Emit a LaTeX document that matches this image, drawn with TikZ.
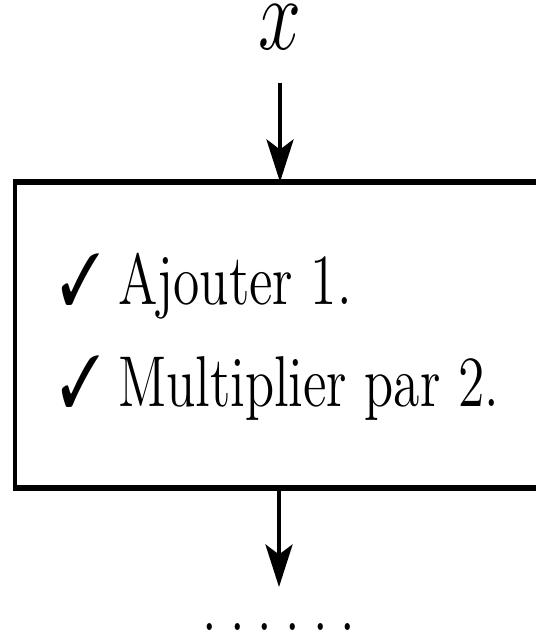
\documentclass[tikz,border=0pt]{standalone}
\usepackage{pifont}
\usepackage{graphicx}
\usetikzlibrary{arrows.meta}
\newcommand{\etroit}[1]{\scalebox{0.745}[1]{#1}}
\tikzset{
	fleche/.style={-{Stealth[length=8.5pt,width=5.4pt,inset=2pt]},line width=0.88pt},
	boite/.style={inner sep=0pt,minimum width=105.44pt,minimum height=60.8pt,font=\fontsize{14.4}{20.4}\selectfont},
	bordv/.style={line width=0.88pt,shorten <=-0.62pt,shorten >=-0.62pt},
	bordh/.style={line width=1.24pt}
}
\begin{document}
\begin{tikzpicture}[x=0.2pt,y=-0.2pt]
	\useasboundingbox (0,0) rectangle (535,634);
	\node[inner sep=0pt,anchor=base] (entree) at (280,50) {\etroit{\huge $x$}};
	\node[boite] (consigne) at (279.6,335) {\etroit{\begin{tabular}{@{}l@{}}\ding{51} Ajouter 1.\\ \ding{51} Multiplier par 2.\end{tabular}}};
	\node[inner sep=0pt,anchor=base,font=\fontsize{14.4}{20.4}\selectfont] (sortie) at (279,630) {\etroit{.\kern.245em.\kern.245em.\kern.245em.\kern.245em.\kern.245em.}};
	% cadre (le bord droit sort de l'image)
	\draw[bordv] (consigne.north west) -- (consigne.south west);
	\draw[bordh] (consigne.north west) -- (consigne.north east);
	\draw[bordh] (consigne.south west) -- (consigne.south east);
	\draw[fleche,shorten <=6.4pt] (entree) -- (entree |- consigne.north);
	\draw[fleche,shorten >=7pt] (sortie |- consigne.south) -- (sortie);
\end{tikzpicture}
\end{document}
